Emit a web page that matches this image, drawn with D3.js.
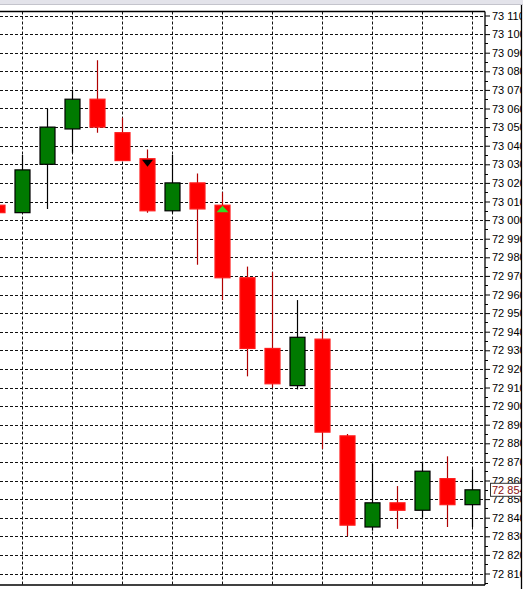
<!DOCTYPE html>
<html>
<head>
<meta charset="utf-8">
<script src="https://cdn.jsdelivr.net/npm/d3@7"></script>
<style>
  html, body { margin: 0; padding: 0; background: #fff; overflow: hidden; }
  svg { display: block; }
</style>
</head>
<body>
<svg id="chart" width="523" height="589"></svg>
<script>
'use strict';

// bar numbers (-1 is the bar cut off at the left edge)
var bars = [-1, 0, 1, 2, 3, 4, 5, 6, 7, 8, 9, 10, 11, 12, 13, 14, 15, 16, 17, 18];
var opens  = [73008, 73004, 73030, 73049, 73065, 73047, 73033, 73005, 73020, 73008, 72969, 72931, 72911, 72936, 72884, 72835, 72848, 72844, 72861, 72847];
var highs  = [73008, 73035, 73060, 73070, 73086, 73055, 73038, 73035, 73025, 73015, 72975, 72972, 72957, 72941, 72885, 72869, 72857, 72870, 72873, 72866];
var lows   = [73004, 73004, 73006, 73036, 73047, 73032, 73004, 73004, 72976, 72957, 72916, 72910, 72909, 72877, 72830, 72833, 72834, 72840, 72835, 72835];
var closes = [73004, 73027, 73050, 73065, 73050, 73032, 73005, 73020, 73006, 72969, 72931, 72912, 72937, 72886, 72836, 72848, 72844, 72865, 72847, 72855];

// trade arrows drawn on the bars
var markerBars = [5, 8];
var markerTypes = ['sell', 'buy'];

var priceTicks = d3.range(72810, 73111, 10);
var halfTicks = d3.range(72805, 73111, 10);
var lastPrice = 72854;

var svg = d3.select('#chart');
var W = 523, H = 589;
var plotRight = 485, plotTop = 11.5, plotBottom = 585;
var labelFont = '"Liberation Sans", Arial, sans-serif';

var x = d3.scaleLinear().domain([0, 18]).range([22.5, 472.5]);
var y = d3.scaleLinear().domain([72810, 73110]).range([573.5, 15.5]);

var fmt = d3.formatLocale({ decimal: '.', thousands: ' ', grouping: [3], currency: ['', ''] }).format(',d');

var candles = bars.map(function(b, i) {
  return { bar: b, open: opens[i], high: highs[i], low: lows[i], close: closes[i] };
});

// top strip
svg.append('rect').attr('x', 0).attr('y', 0).attr('width', W).attr('height', 4.5).attr('fill', '#e3e3ea');
svg.append('line').attr('x1', 0).attr('x2', W).attr('y1', 4.5).attr('y2', 4.5).attr('stroke', '#c4c4cc');

svg.append('clipPath').attr('id', 'plotClip')
  .append('rect').attr('x', 0).attr('y', plotTop).attr('width', plotRight).attr('height', plotBottom - plotTop);
svg.append('clipPath').attr('id', 'axisClip')
  .append('rect').attr('x', plotRight).attr('y', plotTop).attr('width', 521 - plotRight).attr('height', plotBottom - plotTop);

var plot = svg.append('g').attr('clip-path', 'url(#plotClip)');

// grid
plot.append('g').selectAll('line').data(priceTicks).join('line')
  .attr('x1', 0).attr('x2', plotRight)
  .attr('y1', function(d) { return Math.round(y(d)) + 0.5; })
  .attr('y2', function(d) { return Math.round(y(d)) + 0.5; })
  .attr('stroke', '#111').attr('stroke-dasharray', '3,2');

plot.append('g').selectAll('line').data(d3.range(0, 19, 2)).join('line')
  .attr('x1', function(d) { return x(d); }).attr('x2', function(d) { return x(d); })
  .attr('y1', plotTop).attr('y2', plotBottom)
  .attr('stroke', '#111').attr('stroke-dasharray', '3,2');

// candles
var candle = plot.append('g').selectAll('g').data(candles).join('g');

candle.append('line')
  .attr('x1', function(d) { return x(d.bar); })
  .attr('x2', function(d) { return x(d.bar); })
  .attr('y1', function(d) { return y(d.high); })
  .attr('y2', function(d) { return y(d.low); })
  .attr('stroke', function(d) { return d.close >= d.open ? '#000' : '#b00000'; })
  .attr('stroke-width', 1.2);

candle.append('rect')
  .attr('x', function(d) { return x(d.bar) - 7.5; })
  .attr('y', function(d) { return y(Math.max(d.open, d.close)); })
  .attr('width', 15)
  .attr('height', function(d) { return Math.max(1, Math.abs(y(d.open) - y(d.close))); })
  .attr('fill', function(d) { return d.close >= d.open ? '#007a00' : '#ff0000'; })
  .attr('stroke', function(d) { return d.close >= d.open ? '#000' : '#ff1a1a'; })
  .attr('stroke-width', 1.2);

// arrows
plot.append('g').selectAll('path').data(markerBars).join('path')
  .attr('d', function(b, i) {
    var c = candles[bars.indexOf(b)];
    var cx = x(b), top = y(Math.max(c.open, c.close)) + 1;
    if (markerTypes[i] === 'sell') {
      return 'M' + (cx - 5.5) + ',' + top + 'L' + (cx + 5.5) + ',' + top + 'L' + cx + ',' + (top + 7) + 'Z';
    }
    return 'M' + (cx - 6) + ',' + (top + 6) + 'L' + (cx + 6) + ',' + (top + 6) + 'L' + cx + ',' + (top - 0.5) + 'Z';
  })
  .attr('fill', function(b, i) { return markerTypes[i] === 'sell' ? '#000' : '#33dd22'; });

// frame
svg.append('line').attr('x1', 0).attr('x2', plotRight).attr('y1', plotTop).attr('y2', plotTop).attr('stroke', '#000').attr('stroke-width', 1.3);
svg.append('line').attr('x1', 0).attr('x2', plotRight).attr('y1', plotBottom).attr('y2', plotBottom).attr('stroke', '#000').attr('stroke-width', 1.3);

// price axis
var axisG = svg.append('g').attr('clip-path', 'url(#axisClip)');
var axis = axisG.append('g')
  .attr('transform', 'translate(' + plotRight + ',0)')
  .call(d3.axisRight(y).tickValues(priceTicks).tickFormat(fmt).tickSize(5).tickPadding(2));
axis.select('.domain').remove();
axis.selectAll('.tick line').attr('stroke', '#000');
axis.selectAll('.tick text')
  .attr('fill', '#000')
  .style('font-family', labelFont)
  .style('font-size', '11px');

axisG.append('g').selectAll('line').data(halfTicks).join('line')
  .attr('x1', plotRight).attr('x2', plotRight + 3)
  .attr('y1', function(d) { return Math.round(y(d)) + 0.5; })
  .attr('y2', function(d) { return Math.round(y(d)) + 0.5; })
  .attr('stroke', '#000');

svg.append('line').attr('x1', plotRight).attr('x2', plotRight).attr('y1', plotTop).attr('y2', plotBottom).attr('stroke', '#000').attr('stroke-width', 1.3);

// last price box
var lastY = y(closes[closes.length - 1]);
axisG.append('rect')
  .attr('x', 490.5).attr('y', lastY - 6.5).attr('width', 40).attr('height', 13)
  .attr('fill', '#fff').attr('stroke', '#333');
axisG.append('text')
  .attr('x', 492).attr('y', lastY).attr('dy', '0.35em')
  .attr('fill', '#8b1010')
  .style('font-family', labelFont)
  .style('font-size', '11px')
  .text(fmt(lastPrice));

svg.append('line').attr('x1', 521.5).attr('x2', 521.5).attr('y1', 5).attr('y2', H).attr('stroke', '#000').attr('stroke-width', 1.3);
</script>
</body>
</html>
